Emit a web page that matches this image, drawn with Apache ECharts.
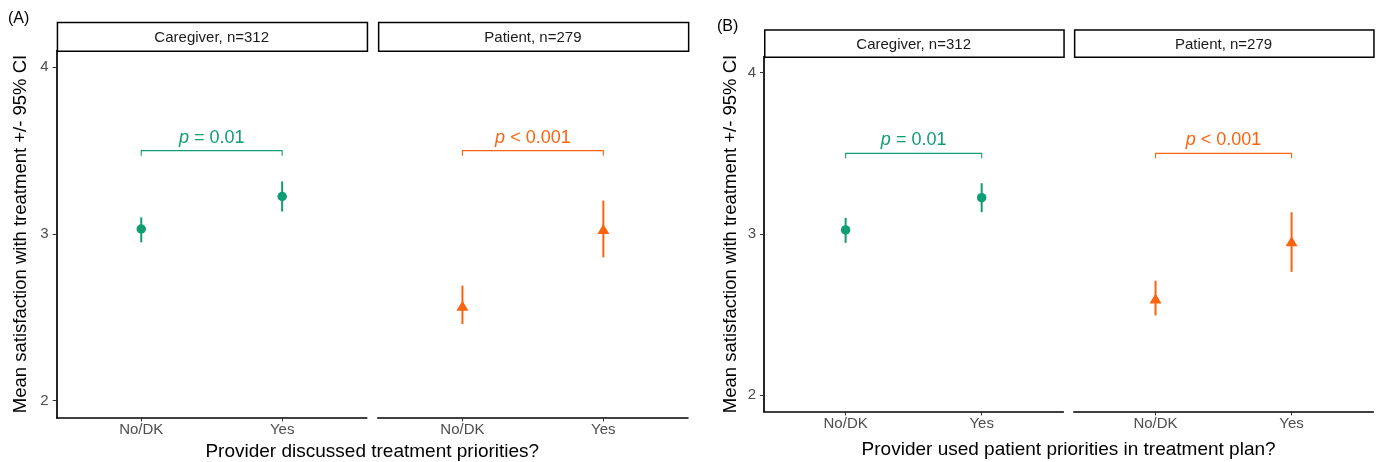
<!DOCTYPE html>
<html>
<head>
<meta charset="utf-8">
<script src="https://cdn.jsdelivr.net/npm/echarts@6/dist/echarts.min.js"></script>
<style>
html,body{margin:0;padding:0;background:#fff;}
#chart{width:1381px;height:462px;}
</style>
</head>
<body>
<div id="chart"></div>
<script>
// ---------- data ----------
const categories = ['No/DK', 'Yes'];
const facetLabels = ['Caregiver, n=312', 'Patient, n=279'];
const yTicks = [2, 3, 4];
const panelLabels = ['(A)', '(B)'];
const xTitles = ['Provider discussed treatment priorities?', 'Provider used patient priorities in treatment plan?'];
const yTitle = 'Mean satisfaction with treatment +/- 95% CI';

// Panel A
const aCareMean = [3.03, 3.225];
const aCareLow  = [2.95, 3.135];
const aCareHigh = [3.10, 3.315];
const aPatMean  = [2.57, 3.03];
const aPatLow   = [2.46, 2.86];
const aPatHigh  = [2.69, 3.20];
// Panel B
const bCareMean = [3.025, 3.225];
const bCareLow  = [2.945, 3.135];
const bCareHigh = [3.10, 3.315];
const bPatMean  = [2.60, 2.955];
const bPatLow   = [2.495, 2.765];
const bPatHigh  = [2.71, 3.135];

const pSign  = ['=', '<'];
const pValue = ['0.01', '0.001'];
const bracketY = [3.5, 3.5];
const bracketTip = 0.03;

// ---------- style / layout ----------
const GREEN = '#0F9D74';
const ORANGE = '#FA640F';
const FONT = '"Liberation Sans", Arial, sans-serif';

const grids = [
  {left: 56.7,  top: 50.6, width: 310,   height: 366.8},
  {left: 377.9, top: 50.6, width: 310,   height: 366.8},
  {left: 764,   top: 56.6, width: 299.3, height: 354.8},
  {left: 1073.9,top: 56.6, width: 299.3, height: 354.8}
];
const xTitleOffset = [34.5, 38.5];
const yTitleOffset = [36, 33];

const facets = [
  {mean: aCareMean, low: aCareLow, high: aCareHigh, color: GREEN,  symbol: 'circle',   size: 9.5,      p: 0, by: bracketY[0]},
  {mean: aPatMean,  low: aPatLow,  high: aPatHigh,  color: ORANGE, symbol: 'triangle', size: [12, 10], p: 1, by: bracketY[1]},
  {mean: bCareMean, low: bCareLow, high: bCareHigh, color: GREEN,  symbol: 'circle',   size: 9.5,      p: 0, by: bracketY[0]},
  {mean: bPatMean,  low: bPatLow,  high: bPatHigh,  color: ORANGE, symbol: 'triangle', size: [12, 10], p: 1, by: bracketY[1]}
];

const xAxes = [], yAxes = [], series = [];
facets.forEach((f, i) => {
  const isLeft = (i % 2 === 0);
  xAxes.push({
    type: 'value', gridIndex: i, min: -0.6, max: 1.6,
    axisLine: {show: true, onZero: false, lineStyle: {color: '#000', width: 1.7}},
    axisTick: {show: true, customValues: [0, 1], length: 4, lineStyle: {color: '#333', width: 1}},
    axisLabel: {show: true, customValues: [0, 1], formatter: v => categories[Math.round(v)],
      color: '#4d4d4d', fontSize: 15, fontFamily: FONT, margin: 5},
    splitLine: {show: false}
  });
  yAxes.push({
    type: 'value', gridIndex: i, min: 1.9, max: 4.1,
    axisLine: {show: isLeft, onZero: false, lineStyle: {color: '#000', width: 1.7}},
    axisTick: {show: isLeft, customValues: yTicks, length: 4, lineStyle: {color: '#333', width: 1}},
    axisLabel: {show: isLeft, customValues: yTicks, color: '#4d4d4d', fontSize: 15, fontFamily: FONT, margin: 8},
    splitLine: {show: false}
  });
  // error bars
  series.push({
    type: 'custom', xAxisIndex: i, yAxisIndex: i,
    data: categories.map((c, k) => [k, f.low[k], f.high[k]]),
    renderItem: (params, api) => {
      const p1 = api.coord([api.value(0), api.value(1)]);
      const p2 = api.coord([api.value(0), api.value(2)]);
      return {type: 'line', shape: {x1: p1[0], y1: p1[1], x2: p2[0], y2: p2[1]},
        style: {stroke: f.color, lineWidth: 2}};
    },
    silent: true, z: 2
  });
  // points
  series.push({
    type: 'scatter', xAxisIndex: i, yAxisIndex: i,
    data: categories.map((c, k) => [k, f.mean[k]]),
    symbol: f.symbol, symbolSize: f.size,
    itemStyle: {color: f.color, opacity: 1},
    silent: true, z: 3
  });
  // significance bracket + label
  series.push({
    type: 'custom', xAxisIndex: i, yAxisIndex: i,
    data: [[0, 1, f.by]],
    renderItem: (params, api) => {
      const y = api.value(2);
      const a = api.coord([api.value(0), y - bracketTip]);
      const b = api.coord([api.value(0), y]);
      const c = api.coord([api.value(1), y]);
      const d = api.coord([api.value(1), y - bracketTip]);
      const m = api.coord([(api.value(0) + api.value(1)) / 2, y]);
      return {type: 'group', children: [
        {type: 'polyline', shape: {points: [a, b, c, d]},
          style: {stroke: f.color, lineWidth: 1.1, fill: null}},
        {type: 'text', x: m[0], y: m[1] - 4,
          style: {text: '{i|p} ' + pSign[f.p] + ' ' + pValue[f.p],
            fill: f.color, fontSize: 18, fontFamily: FONT,
            align: 'center', verticalAlign: 'bottom',
            rich: {i: {fontStyle: 'italic', fontSize: 18, fontFamily: FONT, fill: f.color}}}}
      ]};
    },
    silent: true, z: 2
  });
});

// strips, titles (layout only)
const graphic = [];
grids.forEach((g, i) => {
  const top = i < 2 ? 21.7 : 29.3;
  const h = g.top - top;
  graphic.push({type: 'rect', left: g.left, top: top, shape: {x: 0, y: 0, width: g.width, height: h},
    style: {fill: '#fff', stroke: '#000', lineWidth: 1.5}, z: 10});
  graphic.push({type: 'text', x: g.left + g.width / 2, y: top + h / 2 + 1.5,
    style: {text: facetLabels[i % 2], fill: '#1a1a1a', fontSize: 15, fontFamily: FONT,
      align: 'center', verticalAlign: 'middle'}, z: 11});
});
[[0, 1], [2, 3]].forEach((pair, j) => {
  const gl = grids[pair[0]], gr = grids[pair[1]];
  const cx = (gl.left + gr.left + gr.width) / 2;
  const bottom = gl.top + gl.height;
  graphic.push({type: 'text', x: cx, y: bottom + xTitleOffset[j],
    style: {text: xTitles[j], fill: '#000', fontSize: 19, fontFamily: FONT,
      align: 'center', verticalAlign: 'middle'}});
  graphic.push({type: 'text', x: gl.left - yTitleOffset[j], y: gl.top + gl.height / 2, rotation: Math.PI / 2,
    style: {text: yTitle, fill: '#000', fontSize: 18.5, fontFamily: FONT,
      align: 'center', verticalAlign: 'middle'}});
});
graphic.push({type: 'text', x: 8, y: 19, style: {text: panelLabels[0], fill: '#000', fontSize: 16, fontFamily: FONT, align: 'left', verticalAlign: 'middle'}});
graphic.push({type: 'text', x: 717, y: 27, style: {text: panelLabels[1], fill: '#000', fontSize: 16, fontFamily: FONT, align: 'left', verticalAlign: 'middle'}});

const chart = echarts.init(document.getElementById('chart'), null, {renderer: 'canvas'});
chart.setOption({
  animation: false,
  backgroundColor: '#fff',
  grid: grids.map(g => Object.assign({containLabel: false, outerBoundsMode: 'none'}, g)),
  xAxis: xAxes,
  yAxis: yAxes,
  series: series,
  graphic: graphic
});
</script>
</body>
</html>
